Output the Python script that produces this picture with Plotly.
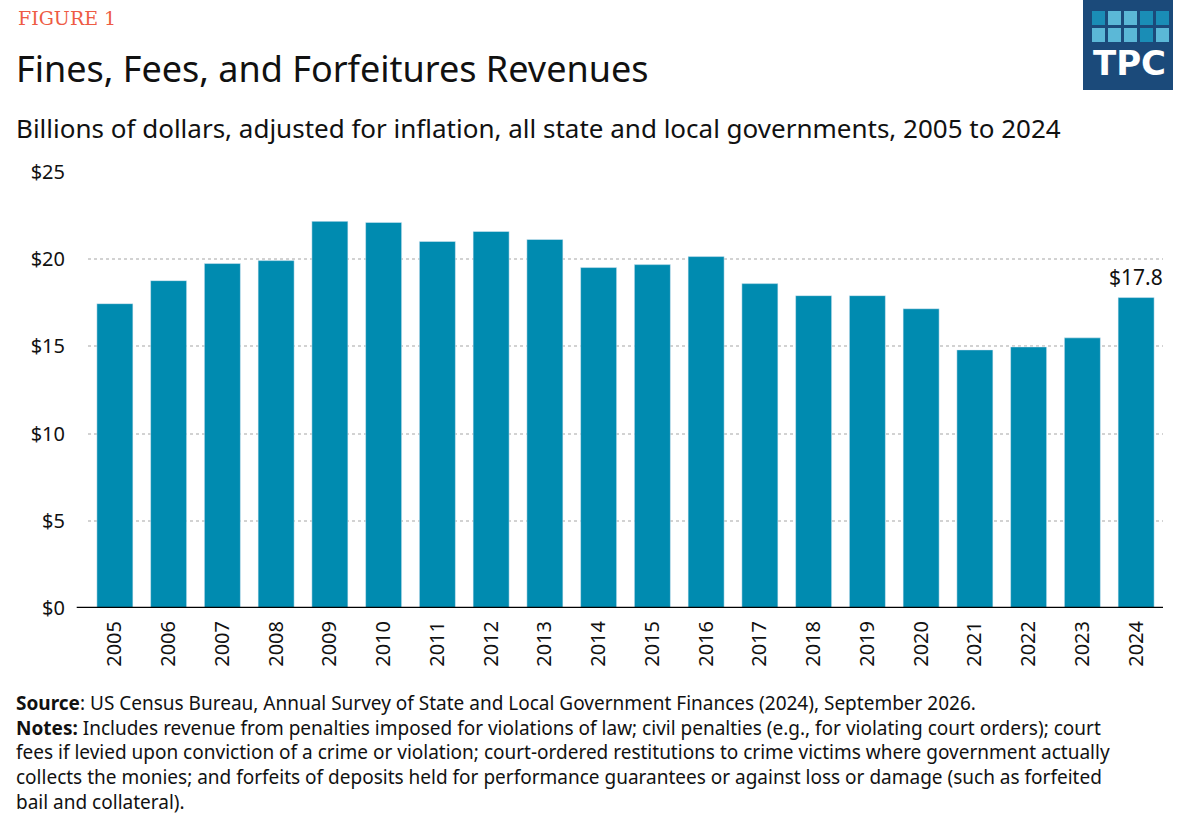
import plotly.graph_objects as go

# Fines, fees and forfeitures revenue, billions of inflation-adjusted dollars
years = list(range(2005, 2025))
revenue = [17.45, 18.77, 19.75, 19.92, 22.17, 22.11, 21.02, 21.59, 21.13, 19.52,
           19.69, 20.15, 18.60, 17.91, 17.91, 17.16, 14.80, 14.97, 15.49, 17.80]
y_ticks = [0, 5, 10, 15, 20, 25]
y_tick_labels = ["$" + str(v) for v in y_ticks]

source_line = "<b>Source</b>: US Census Bureau, Annual Survey of State and Local Government Finances (2024), September 2026."
note_lines = [
    "<b>Notes:</b> Includes revenue from penalties imposed for violations of law; civil penalties (e.g., for violating court orders); court",
    "fees if levied upon conviction of a crime or violation; court-ordered restitutions to crime victims where government actually",
    "collects the monies; and forfeits of deposits held for performance guarantees or against loss or damage (such as forfeited",
    "bail and collateral).",
]

bar_color = "#008BB0"
font_main = "'Noto Sans', Lato, sans-serif"

fig = go.Figure()
fig.add_trace(go.Bar(
    x=years,
    y=revenue,
    marker_color=bar_color,
    hovertemplate="%{x}: $%{y:.1f}B<extra></extra>",
))

# label on the latest year
fig.add_annotation(
    x=years[-1], y=revenue[-1], xref="x", yref="y",
    text="$" + format(revenue[-1], ".1f"),
    showarrow=False, yanchor="bottom", yshift=5,
    font=dict(family=font_main, size=21, color="#111111"),
)

fig.update_layout(
    width=1179, height=823,
    margin=dict(l=88, r=16, t=172, b=215),
    paper_bgcolor="white", plot_bgcolor="white",
    bargap=0.33,
    showlegend=False,
    font=dict(family=font_main, color="#111111"),
)

fig.update_yaxes(
    range=[0, 25],
    tickvals=y_ticks, ticktext=y_tick_labels,
    tickfont=dict(family=font_main, size=20, color="#111111"),
    ticklabelstandoff=22,
    showgrid=True, gridcolor="#d2d2d2", gridwidth=1.5, griddash="dot",
    zeroline=False, showline=False, ticks="",
)
fig.update_xaxes(
    type="linear",
    range=[years[0] - 0.5, years[-1] + 0.5],
    tickmode="array", tickvals=years, ticktext=[str(y) for y in years],
    tickangle=-90,
    tickfont=dict(family=font_main, size=20, color="#111111"),
    showgrid=False, showline=False, ticks="", zeroline=False,
    ticklabelstandoff=8,
)

# baseline at $0, slightly longer on the left like the original
fig.add_shape(type="line", xref="paper", yref="y", x0=-0.0105, x1=1, y0=0, y1=0,
              line=dict(color="black", width=2.5))

# helpers to place page furniture by pixel position
px_w, px_h = 1075.0, 436.0


def px_x(v):
    return (v - 88) / px_w


def px_y(v):
    return (608 - v) / px_h


# header texts
fig.add_annotation(text="FIGURE 1", xref="paper", yref="paper", x=px_x(16), y=px_y(18),
                   xanchor="left", yanchor="middle", showarrow=False,
                   font=dict(family="'DejaVu Serif', serif", size=19, color="#EE5B44"))
fig.add_annotation(text="Fines, Fees, and Forfeitures Revenues", xref="paper", yref="paper",
                   x=px_x(14), y=px_y(68), xanchor="left", yanchor="middle", showarrow=False,
                   font=dict(family=font_main, size=36, color="#111111"))
fig.add_annotation(text="Billions of dollars, adjusted for inflation, all state and local governments, 2005 to 2024",
                   xref="paper", yref="paper", x=px_x(14), y=px_y(128), xanchor="left", yanchor="middle",
                   showarrow=False, font=dict(family=font_main, size=26, color="#111111"))

# source and notes
fig.add_annotation(text="<br>".join([source_line] + note_lines), xref="paper", yref="paper",
                   x=px_x(14), y=px_y(752), xanchor="left", yanchor="middle", align="left",
                   showarrow=False, font=dict(family=font_main, size=19, color="#111111"))

# TPC logo: navy box with two rows of squares and the letters
fig.add_shape(type="rect", xref="paper", yref="paper", x0=px_x(1083), x1=px_x(1173),
              y0=px_y(0), y1=px_y(90), fillcolor="#1B4A7A", line_width=0, layer="above")
sq_colors = [["#1A8DB6", "#5BB8D7", "#5BB8D7", "#1A8DB6", "#1A8DB6"],
             ["#5BB8D7", "#5BB8D7", "#5BB8D7", "#1A8DB6", "#5BB8D7"]]
for r, row in enumerate(sq_colors):
    for c, col in enumerate(row):
        x0 = 1092 + c * 16
        y0 = 11 + r * 17
        fig.add_shape(type="rect", xref="paper", yref="paper",
                      x0=px_x(x0), x1=px_x(x0 + 13), y0=px_y(y0), y1=px_y(y0 + 14),
                      fillcolor=col, line_width=0, layer="above")
fig.add_annotation(text="<b>TPC</b>", xref="paper", yref="paper",
                   x=px_x(1129), y=px_y(63), xanchor="center", yanchor="middle",
                   showarrow=False, font=dict(family="'DejaVu Sans', sans-serif", size=34, color="white"))

# drop the default page margin so the figure sits at the window's corner
fig.write_html("out.html", config={"displayModeBar": False},
               post_script="document.body.style.margin='0';")
